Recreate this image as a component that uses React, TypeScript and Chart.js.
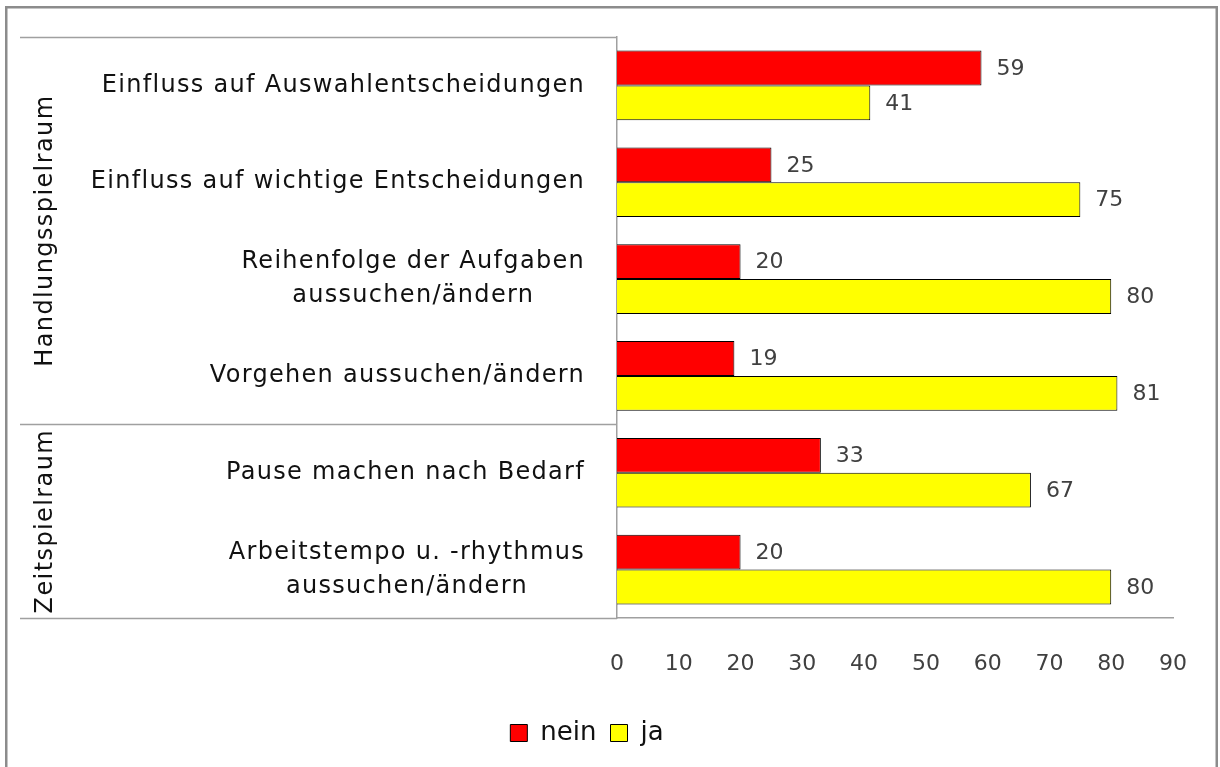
import React, { useEffect, useRef } from "react";
import { Chart, registerables } from "chart.js";

Chart.register(...registerables);

const categories: string[][] = [
  ["Einfluss auf Auswahlentscheidungen"],
  ["Einfluss auf wichtige Entscheidungen"],
  ["Reihenfolge der Aufgaben", "aussuchen/ändern"],
  ["Vorgehen aussuchen/ändern"],
  ["Pause machen nach Bedarf"],
  ["Arbeitstempo u. -rhythmus", "aussuchen/ändern"],
];
const neinValues = [59, 25, 20, 19, 33, 20];
const jaValues = [41, 75, 80, 81, 67, 80];
const groups = [
  { label: "Handlungsspielraum", from: 0, to: 3 },
  { label: "Zeitspielraum", from: 4, to: 5 },
];
const seriesNames = ["nein", "ja"];

const FONT = "'DejaVu Sans', sans-serif";
const LINE = "#a0a0a0";

const overlay = {
  id: "overlay",
  afterDraw(chart: any) {
    const ctx = chart.ctx;
    const y = chart.scales.y;
    const area = chart.chartArea;
    const leftX = 20;
    ctx.save();
    // outer border
    ctx.strokeStyle = "#8c8c8c";
    ctx.lineWidth = 2.5;
    ctx.strokeRect(6.25, 7.25, 1210.5, 800);

    const half = (y.getPixelForValue(1) - y.getPixelForValue(0)) / 2;
    // horizontal category-axis lines
    ctx.strokeStyle = LINE;
    ctx.lineWidth = 1.5;
    const boundaries = [area.top, (y.getPixelForValue(3) + y.getPixelForValue(4)) / 2, area.bottom];
    boundaries.forEach((b) => {
      ctx.beginPath();
      ctx.moveTo(leftX, Math.round(b) + 0.5);
      ctx.lineTo(area.left, Math.round(b) + 0.5);
      ctx.stroke();
    });

    // category labels (centered lines, block right aligned)
    ctx.fillStyle = "#111";
    ctx.font = `24px ${FONT}`;
    (ctx as any).letterSpacing = "1.3px";
    ctx.textBaseline = "middle";
    const right = area.left - 32;
    categories.forEach((lines, i) => {
      const cy = y.getPixelForValue(i);
      const widths = lines.map((l) => ctx.measureText(l).width);
      const maxW = Math.max(...widths);
      const cx = right - maxW / 2;
      const lh = 34;
      lines.forEach((l, j) => {
        ctx.textAlign = "center";
        ctx.fillText(l, cx, cy + (j - (lines.length - 1) / 2) * lh);
      });
    });

    // group labels rotated
    (ctx as any).letterSpacing = "1.4px";
    ctx.font = `24px ${FONT}`;
    groups.forEach((g) => {
      const top = y.getPixelForValue(g.from) - half;
      const bot = y.getPixelForValue(g.to) + half;
      ctx.save();
      ctx.translate(46, (top + bot) / 2);
      ctx.rotate(-Math.PI / 2);
      ctx.textAlign = "center";
      ctx.textBaseline = "middle";
      ctx.fillText(g.label, 0, 0);
      ctx.restore();
    });

    // value labels
    (ctx as any).letterSpacing = "0px";
    ctx.fillStyle = "#404040";
    ctx.font = `22px ${FONT}`;
    ctx.textAlign = "left";
    ctx.textBaseline = "middle";
    chart.data.datasets.forEach((ds: any, di: number) => {
      const meta = chart.getDatasetMeta(di);
      meta.data.forEach((bar: any, i: number) => {
        ctx.fillText(String(ds.data[i]), bar.x + 15, bar.y + 1);
      });
    });
    ctx.restore();
  },
};

export default function App() {
  const ref = useRef<HTMLCanvasElement>(null);
  useEffect(() => {
    document.body.style.margin = "0";
    const chart = new Chart(ref.current!, {
      type: "bar",
      data: {
        labels: categories.map((c) => c.join(" ")),
        datasets: [
          {
            label: seriesNames[0],
            data: neinValues,
            backgroundColor: "#ff0000",
            borderColor: "#000",
            borderWidth: 1,
            categoryPercentage: 0.72,
            barPercentage: 1,
          },
          {
            label: seriesNames[1],
            data: jaValues,
            backgroundColor: "#ffff00",
            borderColor: "#000",
            borderWidth: 1,
            categoryPercentage: 0.72,
            barPercentage: 1,
          },
        ],
      },
      options: {
        indexAxis: "y",
        responsive: false,
        animation: false,
        layout: { padding: { top: 37, left: 0, right: 46, bottom: 11 } },
        scales: {
          y: {
            ticks: { display: false },
            grid: { display: false, drawTicks: false },
            border: { display: true, color: LINE, width: 1.5 },
            afterFit: (s: any) => {
              s.width = 617;
            },
          },
          x: {
            min: 0,
            max: 90,
            ticks: {
              stepSize: 10,
              color: "#404040",
              font: { family: FONT, size: 22 },
              padding: 33,
            },
            grid: { display: false, drawTicks: false },
            border: { display: true, color: LINE, width: 1.5 },
            afterFit: (s: any) => {
              s.height = 88;
            },
          },
        },
        plugins: {
          legend: {
            position: "bottom",
            labels: {
              boxWidth: 17,
              boxHeight: 17,
              color: "#111",
              font: { family: FONT, size: 26 },
              padding: 14,
            },
          },
          tooltip: { enabled: false },
        },
      },
      plugins: [overlay],
    });
    return () => chart.destroy();
  }, []);
  return (
    <div style={{ position: "fixed", left: 0, top: 0, width: 1220, height: 767, background: "#fff" }}>
      <canvas ref={ref} width={1220} height={767} />
    </div>
  );
}
